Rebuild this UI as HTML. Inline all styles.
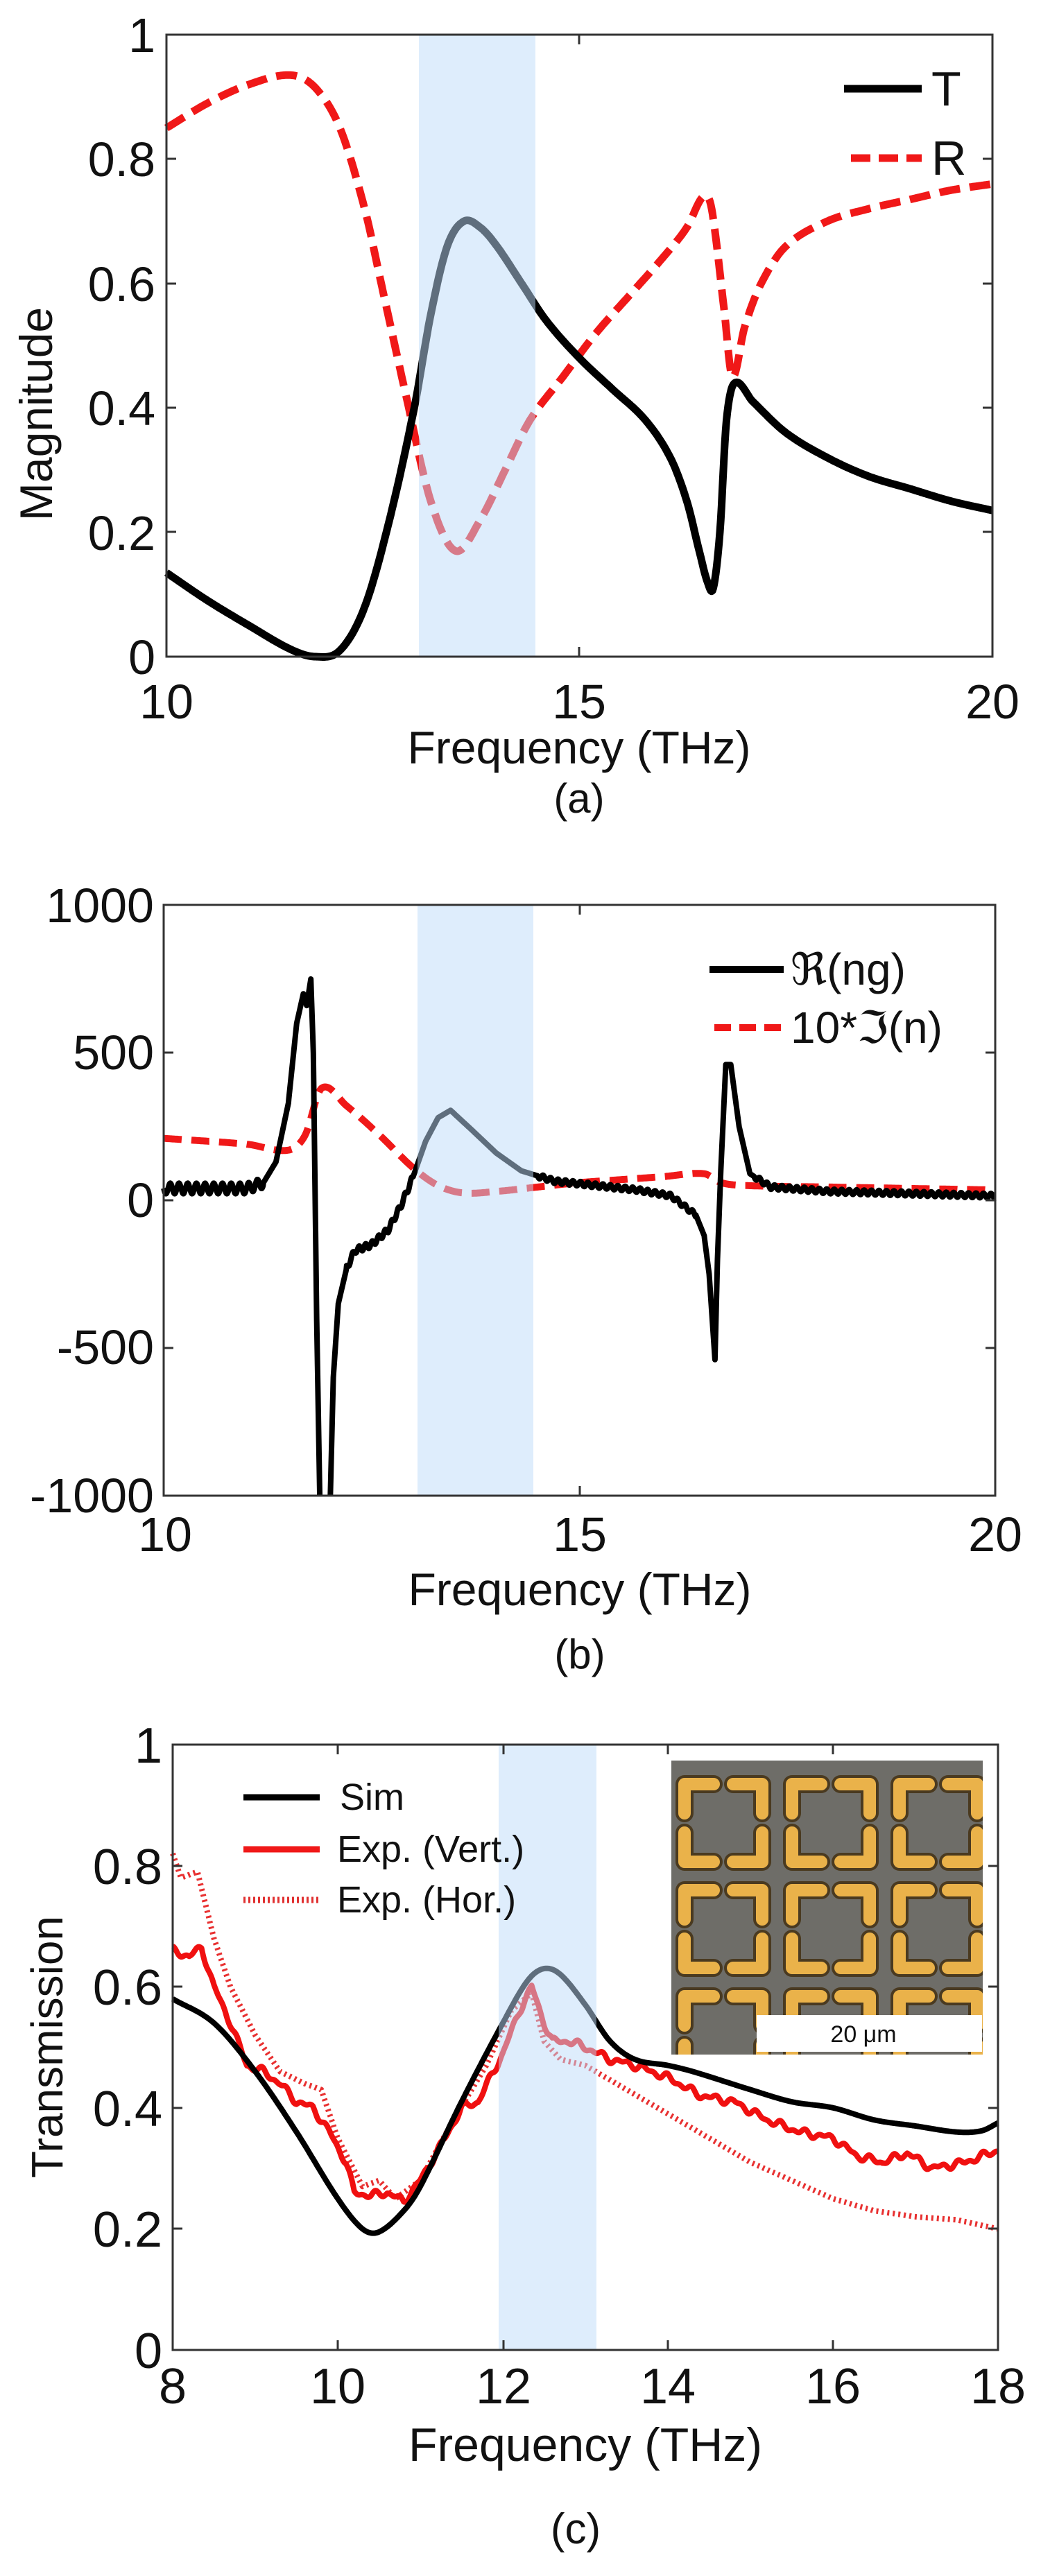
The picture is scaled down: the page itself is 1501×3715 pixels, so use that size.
<!DOCTYPE html>
<html><head><meta charset="utf-8">
<style>
html,body{margin:0;padding:0;background:#fff;}
svg{display:block;}
text{font-family:"Liberation Sans",Arial,sans-serif;fill:#111;}
</style></head>
<body>
<svg id="s" width="1501" height="3715" viewBox="0 0 1501 3715" xmlns="http://www.w3.org/2000/svg">
<rect width="1501" height="3715" fill="#fff"/>
<g id="curves"></g>
<rect x="604" y="50" width="168" height="897" fill="rgb(190,220,250)" fill-opacity="0.5"/>
<rect x="602" y="1305" width="167" height="852" fill="rgb(190,220,250)" fill-opacity="0.5"/>
<rect x="719" y="2516" width="141" height="873" fill="rgb(190,220,250)" fill-opacity="0.5"/>
<g id="axes" fill="none" stroke="#333" stroke-width="3"></g>

<g font-size="70" text-anchor="end">
<text x="224" y="972">0</text><text x="224" y="793">0.2</text><text x="224" y="613">0.4</text>
<text x="224" y="434">0.6</text><text x="224" y="254">0.8</text><text x="224" y="75">1</text>
</g>
<g font-size="70" text-anchor="middle">
<text x="240" y="1036">10</text><text x="835" y="1036">15</text><text x="1431" y="1036">20</text>
</g>
<text x="835" y="1101" font-size="66" text-anchor="middle">Frequency (THz)</text>
<text x="835" y="1172" font-size="60" text-anchor="middle">(a)</text>
<text transform="translate(75,597) rotate(-90)" font-size="66" text-anchor="middle">Magnitude</text>
<line x1="1217" y1="128" x2="1329" y2="128" stroke="#000" stroke-width="11"/>
<line x1="1227" y1="228" x2="1329" y2="228" stroke="#f01818" stroke-width="11" stroke-dasharray="28,12"/>
<text x="1343" y="152" font-size="70">T</text>
<text x="1343" y="252" font-size="70">R</text>

<g font-size="70" text-anchor="end">
<text x="222" y="1330">1000</text><text x="222" y="1542">500</text><text x="222" y="1755">0</text>
<text x="222" y="1967">-500</text><text x="222" y="2181">-1000</text>
</g>
<g font-size="70" text-anchor="middle">
<text x="238" y="2237">10</text><text x="836" y="2237">15</text><text x="1435" y="2237">20</text>
</g>
<text x="836" y="2315" font-size="66" text-anchor="middle">Frequency (THz)</text>
<text x="836" y="2406" font-size="60" text-anchor="middle">(b)</text>
<line x1="1023" y1="1398" x2="1130" y2="1398" stroke="#000" stroke-width="10"/>
<line x1="1030" y1="1482" x2="1130" y2="1482" stroke="#f01818" stroke-width="10" stroke-dasharray="24,12"/>
<text x="1140" y="1420" font-size="64">ℜ(ng)</text>
<text x="1140" y="1504" font-size="64">10*ℑ(n)</text>

<g font-size="72" text-anchor="end">
<text x="234" y="3415">0</text><text x="234" y="3240">0.2</text><text x="234" y="3066">0.4</text>
<text x="234" y="2891">0.6</text><text x="234" y="2717">0.8</text><text x="234" y="2542">1</text>
</g>
<g font-size="72" text-anchor="middle">
<text x="249" y="3466">8</text><text x="487" y="3466">10</text><text x="726" y="3466">12</text>
<text x="963" y="3466">14</text><text x="1201" y="3466">16</text><text x="1439" y="3466">18</text>
</g>
<text x="844" y="3549" font-size="68" text-anchor="middle">Frequency (THz)</text>
<text x="830" y="3668" font-size="62" text-anchor="middle">(c)</text>
<text transform="translate(90,2952) rotate(-90)" font-size="64" text-anchor="middle">Transmission</text>
<line x1="351" y1="2592" x2="461" y2="2592" stroke="#000" stroke-width="9"/>
<line x1="351" y1="2667" x2="461" y2="2667" stroke="#f01818" stroke-width="9"/>
<line x1="351" y1="2740" x2="461" y2="2740" stroke="#e03030" stroke-width="9" stroke-dasharray="3,4"/>
<text x="490" y="2610" font-size="54">Sim</text>
<text x="486" y="2685" font-size="54">Exp. (Vert.)</text>
<text x="486" y="2758" font-size="54">Exp. (Hor.)</text>

<defs><clipPath id="ic"><rect x="968" y="2539" width="449" height="424"/></clipPath></defs>
<rect x="968" y="2539" width="449" height="424" fill="#6e6d68"/>
<g id="inset" clip-path="url(#ic)"></g>
<rect x="1091" y="2906" width="325" height="53" fill="#fff"/>
<text x="1245" y="2945" font-size="34" text-anchor="middle">20 μm</text>
</svg>
<script>
(function(){
var NS="http://www.w3.org/2000/svg";
function el(p,tag,a){var e=document.createElementNS(NS,tag);for(var k in a)e.setAttribute(k,a[k]);p.appendChild(e);return e;}
var C=document.getElementById('curves'),A=document.getElementById('axes');
function interp(pts,x,lin){var n=pts.length;for(var i=0;i<n-1;i++){if(x<=pts[i+1][0]){var x0=pts[i][0],x1=pts[i+1][0],t=(x-x0)/(x1-x0);
 var y1=pts[i][1],y2=pts[i+1][1];if(lin)return y1+(y2-y1)*t;
 var h=x1-x0;
 var m1=(i>0)?(y2-pts[i-1][1])/(x1-pts[i-1][0]):(y2-y1)/h;
 var m2=(i<n-2)?(pts[i+2][1]-y1)/(pts[i+2][0]-x0):(y2-y1)/h;
 var t2=t*t,t3=t2*t;
 return (2*t3-3*t2+1)*y1+(t3-2*t2+t)*h*m1+(-2*t3+3*t2)*y2+(t3-t2)*h*m2;}}return pts[n-1][1];}
function path(pts,X,Y,step,noise,lin){var d="";for(var x=pts[0][0];x<=pts[pts.length-1][0]+1e-9;x+=step){var v=interp(pts,x,lin);if(noise)v+=noise(x);d+=(d?"L":"M")+X(x).toFixed(1)+","+Y(v).toFixed(1);}return d;}
function curve(pts,X,Y,attrs,step,noise,lin){attrs.d=path(pts,X,Y,step||0.01,noise,lin);attrs.fill="none";attrs["stroke-linejoin"]="round";el(C,"path",attrs);}
var Xa=function(f){return 240+(f-10)*119.1},Ya=function(v){return 947-v*897};
var T=[[10,0.135],[10.5,0.09],[11,0.05],[11.5,0.012],[11.8,0.0],[12.1,0.01],[12.4,0.08],[12.7,0.22],[13.0,0.4],[13.2,0.55],[13.4,0.66],[13.6,0.70],[13.8,0.69],[14.0,0.66],[14.3,0.6],[14.6,0.54],[15.0,0.48],[15.4,0.43],[15.8,0.38],[16.1,0.32],[16.3,0.25],[16.45,0.17],[16.55,0.12],[16.62,0.11],[16.7,0.2],[16.78,0.38],[16.88,0.44],[17.1,0.41],[17.5,0.36],[18,0.32],[18.5,0.29],[19,0.27],[19.5,0.25],[20,0.235]];
var R=[[10,0.85],[10.5,0.89],[11,0.92],[11.5,0.935],[11.8,0.915],[12.1,0.85],[12.4,0.72],[12.6,0.6],[12.9,0.42],[13.2,0.25],[13.5,0.17],[13.8,0.22],[14.1,0.3],[14.4,0.38],[14.8,0.45],[15.2,0.52],[15.6,0.58],[16,0.64],[16.3,0.69],[16.5,0.74],[16.6,0.72],[16.75,0.56],[16.85,0.45],[17.0,0.53],[17.2,0.6],[17.5,0.66],[18,0.7],[18.5,0.72],[19,0.735],[19.5,0.75],[20,0.76]];
curve(R,Xa,Ya,{stroke:"#f01818","stroke-width":11,"stroke-dasharray":"30,14"});
curve(T,Xa,Ya,{stroke:"#000","stroke-width":11});
var Xb=function(f){return 236+(f-10)*119.9},Yb=function(v){return 1731-v*0.4255};
var G=[[10,40],[11.0,40],[11.2,60],[11.35,130],[11.5,330],[11.6,600],[11.68,700],[11.72,660],[11.77,750],[11.8,500],[11.84,-400],[11.88,-1050],[12.0,-1050],[12.04,-600],[12.1,-350],[12.2,-230],[12.3,-170],[12.5,-150],[12.7,-100],[12.85,-20],[13.0,80],[13.15,200],[13.3,280],[13.45,305],[13.7,240],[14,160],[14.3,100],[14.7,65],[15.2,50],[15.7,35],[16.1,15],[16.4,-50],[16.5,-120],[16.56,-250],[16.63,-540],[16.66,-200],[16.7,100],[16.76,460],[16.82,460],[16.92,250],[17.05,90],[17.3,45],[18,30],[20,15]];
var nz=function(x){if(x<11.2)return 18*Math.sin(x*60);if(x>14.5&&(x<16.4||x>17.1))return 8*Math.sin(x*70);if(x>12.2&&x<13)return 10*Math.sin(x*80);return 0;};
var I=[[10,210],[11,190],[11.5,170],[11.7,220],[11.9,380],[12.2,320],[12.6,220],[13,110],[13.3,50],[13.6,25],[14,30],[14.5,45],[15,60],[15.5,70],[16,80],[16.5,90],[16.7,60],[17,50],[18,45],[19,40],[20,35]];
var cp=el(C,"clipPath",{id:"cb"});el(cp,"rect",{x:230,y:1300,width:1210,height:856});
var g=el(C,"g",{"clip-path":"url(#cb)"});
el(g,"path",{d:path(I,Xb,Yb,0.01),fill:"none",stroke:"#f01818","stroke-width":10,"stroke-dasharray":"26,14"});
el(g,"path",{d:path(G,Xb,Yb,0.005,nz,true),fill:"none",stroke:"#000","stroke-width":8,"stroke-linejoin":"round"});
var Xc=function(f){return 249+(f-8)*119},Yc=function(v){return 3389-v*873};
var S=[[8,0.58],[8.5,0.54],[9,0.46],[9.5,0.36],[10,0.25],[10.3,0.2],[10.5,0.195],[10.8,0.23],[11,0.27],[11.5,0.41],[12,0.54],[12.3,0.61],[12.5,0.63],[12.7,0.62],[13,0.57],[13.3,0.51],[13.6,0.48],[14,0.47],[14.3,0.46],[15,0.43],[15.5,0.41],[16,0.40],[16.5,0.38],[17,0.37],[17.5,0.36],[17.8,0.362],[18,0.375]];
var V=[[8,0.66],[8.2,0.65],[8.35,0.665],[8.5,0.6],[8.7,0.54],[8.9,0.47],[9.1,0.46],[9.3,0.44],[9.5,0.41],[9.7,0.40],[9.9,0.36],[10.1,0.31],[10.2,0.26],[10.4,0.255],[10.6,0.26],[10.8,0.245],[11,0.28],[11.3,0.35],[11.5,0.40],[11.7,0.41],[12.0,0.49],[12.2,0.56],[12.35,0.6],[12.5,0.54],[12.6,0.51],[12.8,0.51],[13,0.50],[13.3,0.48],[13.6,0.47],[14,0.45],[14.4,0.42],[14.8,0.41],[15.2,0.38],[15.6,0.36],[16,0.35],[16.3,0.32],[16.6,0.31],[16.9,0.325],[17.2,0.30],[17.6,0.31],[18,0.33]];
var H=[[8,0.82],[8.1,0.78],[8.3,0.79],[8.5,0.68],[8.7,0.6],[9,0.52],[9.3,0.46],[9.6,0.44],[9.8,0.43],[10,0.35],[10.3,0.27],[10.5,0.28],[10.7,0.25],[11,0.28],[11.4,0.38],[11.8,0.47],[12.1,0.56],[12.35,0.59],[12.5,0.51],[12.7,0.48],[13,0.47],[13.5,0.43],[14,0.39],[14.5,0.35],[15,0.31],[15.5,0.28],[16,0.25],[16.5,0.23],[17,0.22],[17.5,0.215],[18,0.2]];
var wob=function(x){return 0.004*Math.sin(x*23)+0.003*Math.sin(x*41);};
curve(H,Xc,Yc,{stroke:"#e83030","stroke-width":8,"stroke-dasharray":"3,5"},0.01,null,true);
curve(V,Xc,Yc,{stroke:"#f01010","stroke-width":8},0.01,wob,true);
curve(S,Xc,Yc,{stroke:"#000","stroke-width":8});
function axes(x0,y0,x1,y1,xt,yt){el(A,"rect",{x:x0,y:y0,width:x1-x0,height:y1-y0});
 xt.forEach(function(x){el(A,"line",{x1:x,y1:y1,x2:x,y2:y1-14});el(A,"line",{x1:x,y1:y0,x2:x,y2:y0+14});});
 yt.forEach(function(y){el(A,"line",{x1:x0,y1:y,x2:x0+14,y2:y});el(A,"line",{x1:x1,y1:y,x2:x1-14,y2:y});});}
axes(240,50,1431,947,[835],[767,588,409,229]);
axes(236,1305,1435,2157,[836],[1518,1944,1731]);
axes(249,2516,1439,3389,[487,726,963,1201],[3214,3040,2865,2691]);
var IN=document.getElementById('inset');
for(var r=0;r<3;r++)for(var c=0;c<3;c++){var ox=979+c*155,oy=2565+r*153;
 var Ls=[[ox+8,oy+50,ox+8,oy+8,ox+50,oy+8],[ox+78,oy+8,ox+120,oy+8,ox+120,oy+50],[ox+8,oy+78,ox+8,oy+120,ox+50,oy+120],[ox+78,oy+120,ox+120,oy+120,ox+120,oy+78]];
 Ls.forEach(function(L){var d="M"+L[0]+","+L[1]+"L"+L[2]+","+L[3]+"L"+L[4]+","+L[5];
  el(IN,"path",{d:d,fill:"none",stroke:"#4a3a20","stroke-width":26,"stroke-linecap":"round","stroke-linejoin":"round"});
  el(IN,"path",{d:d,fill:"none",stroke:"#eab24a","stroke-width":18,"stroke-linecap":"round","stroke-linejoin":"round"});});}
})();
</script>
</body></html>
